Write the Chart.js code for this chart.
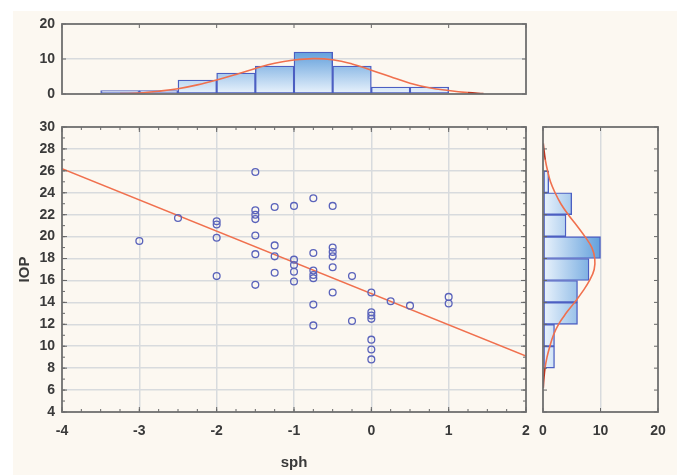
<!DOCTYPE html>
<html><head><meta charset="utf-8">
<script src="https://cdn.jsdelivr.net/npm/chart.js@4.4.1/dist/chart.umd.min.js"></script>
<style>
html,body{margin:0;padding:0;background:#fff;}
#wrap{position:relative;width:677px;height:475px;overflow:hidden;}
#bg{position:absolute;left:13px;top:11px;width:664px;height:464px;background:#fcf8f1;}
canvas{position:absolute;left:0;top:0;}
</style></head><body>
<div id="wrap"><div id="bg"></div>
<canvas id="top" width="677" height="475"></canvas>
<canvas id="main" width="677" height="475"></canvas>
<canvas id="side" width="677" height="475"></canvas>
</div>
<script>
// ---- data ----
const sphValues = [-3, -2.5, -2, -2, -2, -2,
  -1.5, -1.5, -1.5, -1.5, -1.5, -1.5, -1.5,
  -1.25, -1.25, -1.25, -1.25,
  -1, -1, -1, -1, -1,
  -0.75, -0.75, -0.75, -0.75, -0.75, -0.75, -0.75,
  -0.5, -0.5, -0.5, -0.5, -0.5, -0.5,
  -0.25, -0.25,
  0, 0, 0, 0, 0, 0, 0,
  0.25, 0.5, 1, 1];
const iopValues = [19.6, 21.7, 21.4, 21.1, 19.9, 16.4,
  25.9, 22.4, 22.0, 21.6, 20.1, 18.4, 15.6,
  22.7, 19.2, 18.2, 16.7,
  22.8, 17.9, 17.4, 16.8, 15.9,
  23.5, 18.5, 16.9, 16.5, 16.2, 13.8, 11.9,
  22.8, 19.0, 18.6, 18.2, 17.2, 14.9,
  16.4, 12.3,
  14.9, 13.1, 12.8, 12.5, 10.6, 9.7, 8.8,
  14.1, 13.7, 14.5, 13.9];

const fitLineSph = [-4, 2];
const fitLineIop = [26.2, 9.1];

const sphBinCenters = [-3.25, -2.75, -2.25, -1.75, -1.25, -0.75, -0.25, 0.25, 0.75];
const sphCounts     = [1, 1, 4, 6, 8, 12, 8, 2, 2];
const sphCurveX = [-3.25, -3, -2.75, -2.5, -2.25, -2, -1.75, -1.5, -1.25, -1, -0.75, -0.5, -0.25, 0, 0.25, 0.5, 0.75, 1, 1.25, 1.45];
const sphCurveY = [0.1, 0.3, 0.8, 1.5, 2.6, 4.0, 5.6, 7.3, 8.8, 9.7, 10.1, 9.8, 8.6, 6.8, 4.9, 3.1, 1.8, 1.0, 0.4, 0.1];

const iopBinCenters = [25, 23, 21, 19, 17, 15, 13, 11, 9];
const iopCounts     = [1, 5, 4, 10, 8, 6, 6, 2, 2];
const iopCurveIop   = [28.5, 28, 27, 26, 25, 24, 23, 22, 21, 20, 19, 18, 17, 16, 15, 14, 13, 12, 11, 10, 9, 8, 7, 6.2];
const iopCurveCount = [0.05, 0.15, 0.4, 0.8, 1.3, 2.1, 3.1, 4.4, 5.9, 7.3, 8.5, 9.0, 8.9, 8.1, 6.9, 5.5, 4.0, 2.7, 1.8, 1.2, 0.7, 0.35, 0.15, 0.05];

const sphTicks = [-4, -3, -2, -1, 0, 1, 2];
const iopTicks = [4, 6, 8, 10, 12, 14, 16, 18, 20, 22, 24, 26, 28, 30];
const countTicks = [0, 10, 20];

// ---- styles ----
const TICK_FONT = {family: 'Liberation Sans, Arial, sans-serif', size: 14, weight: 'bold'};
const TITLE_FONT = {family: 'Liberation Sans, Arial, sans-serif', size: 15, weight: 'bold'};
const TXT = '#3a3a3a';
const GRID = '#d8dbde';
const RED = '#f0704e';
const BAR_EDGE = '#4c5fc2';

const framePlugin = {
  id: 'frame',
  afterDatasetsDraw(chart, args, opts) {
    const {ctx, chartArea: a} = chart;
    ctx.save();
    ctx.strokeStyle = '#666';
    ctx.lineWidth = 1;
    (opts.marks || []).forEach(m => {
      const s = chart.scales[m.axis];
      const n = Math.round((s.max - s.min) / m.step);
      for (let i = 0; i <= n; i++) {
        const p = s.getPixelForValue(s.min + i * m.step);
        m.sides.forEach(side => {
          ctx.beginPath();
          if (side === 'top') { ctx.moveTo(p, a.top); ctx.lineTo(p, a.top + m.len); }
          if (side === 'bottom') { ctx.moveTo(p, a.bottom); ctx.lineTo(p, a.bottom - m.len); }
          if (side === 'left') { ctx.moveTo(a.left, p); ctx.lineTo(a.left + m.len, p); }
          if (side === 'right') { ctx.moveTo(a.right, p); ctx.lineTo(a.right - m.len, p); }
          ctx.stroke();
        });
      }
    });
    ctx.strokeStyle = '#6f6f6f';
    ctx.lineWidth = 1.8;
    ctx.strokeRect(a.left, a.top, a.right - a.left, a.bottom - a.top);
    ctx.restore();
  }
};

function gridColor(c) {
  const s = c.scale;
  return (c.tick && (c.tick.value === s.min || c.tick.value === s.max)) ? 'rgba(0,0,0,0)' : GRID;
}
function fixedTicks(arr) {
  return s => { s.ticks = arr.map(v => ({value: v})); };
}
const darkEnds = {
  borderColor: c => (Math.min(c.p0.parsed.y, c.p1.parsed.y, c.p0.parsed.x, c.p1.parsed.x) >= 0 &&
    ((c.chart.canvas.id === 'top' && c.p0.parsed.y < 0.45 && c.p1.parsed.y < 0.45) ||
     (c.chart.canvas.id === 'side' && c.p0.parsed.x < 0.45 && c.p1.parsed.x < 0.45))) ? '#b8321e' : undefined
};

// ---- main scatter ----
new Chart(document.getElementById('main'), {
  type: 'scatter',
  data: {
    datasets: [
      {
        type: 'line',
        data: fitLineSph.map((x, i) => ({x, y: fitLineIop[i]})),
        borderColor: RED, borderWidth: 1.6, pointRadius: 0, fill: false, order: 1
      },
      {
        data: sphValues.map((x, i) => ({x, y: iopValues[i]})),
        pointStyle: 'circle', pointRadius: 3.4, borderWidth: 1.3,
        borderColor: '#5a63bb', backgroundColor: 'rgba(0,0,0,0)', order: 0
      }
    ]
  },
  options: {
    responsive: false, animation: false, events: [],
    layout: {padding: {top: 127, right: 151, left: 0, bottom: 0}},
    plugins: {
      legend: {display: false}, tooltip: {enabled: false},
      frame: {marks: [
        {axis: 'x', step: 0.25, len: 3, sides: ['top', 'bottom']},
        {axis: 'x', step: 1, len: 5, sides: ['top', 'bottom']},
        {axis: 'y', step: 1, len: 3, sides: ['left', 'right']},
        {axis: 'y', step: 2, len: 5, sides: ['left', 'right']}
      ]}
    },
    scales: {
      x: {
        type: 'linear', min: -4, max: 2,
        afterBuildTicks: fixedTicks(sphTicks),
        afterFit: s => { s.height = 63; },
        grid: {color: gridColor, lineWidth: 1.5, drawTicks: false},
        border: {display: false},
        ticks: {font: TICK_FONT, color: TXT, padding: 11, maxRotation: 0},
        title: {display: true, text: 'sph', font: TITLE_FONT, color: TXT, padding: {top: 0, bottom: 3}}
      },
      y: {
        type: 'linear', min: 4, max: 30,
        afterBuildTicks: fixedTicks(iopTicks),
        afterFit: s => { s.width = 62; },
        grid: {color: gridColor, lineWidth: 1.5, drawTicks: false},
        border: {display: false},
        ticks: {font: TICK_FONT, color: TXT, padding: 7},
        title: {display: true, text: 'IOP', font: TITLE_FONT, color: TXT, padding: {top: 16, bottom: 0}}
      }
    }
  },
  plugins: [framePlugin]
});

// ---- top histogram ----
new Chart(document.getElementById('top'), {
  type: 'bar',
  data: {
    datasets: [
      {
        type: 'line',
        data: sphCurveX.map((x, i) => ({x, y: sphCurveY[i]})),
        borderColor: RED, borderWidth: 1.6, pointRadius: 0, tension: 0.4, fill: false,
        segment: darkEnds, order: 0
      },
      {
        data: sphBinCenters.map((x, i) => ({x, y: sphCounts[i]})),
        barPercentage: 1, categoryPercentage: 1,
        borderColor: BAR_EDGE, borderWidth: 1.4, borderSkipped: false,
        backgroundColor: c => {
          const ch = c.chart; if (!ch.chartArea) return '#a8c8ec';
          const y = ch.scales.y;
          const g = ch.ctx.createLinearGradient(0, y.getPixelForValue(0), 0, y.getPixelForValue(12));
          g.addColorStop(0, '#eaf3fc'); g.addColorStop(1, '#63a0dc');
          return g;
        },
        order: 1
      }
    ]
  },
  options: {
    responsive: false, animation: false, events: [],
    layout: {padding: {top: 24, right: 151, left: 0, bottom: 381}},
    plugins: {
      legend: {display: false}, tooltip: {enabled: false},
      frame: {marks: [
        {axis: 'x', step: 1, len: 4, sides: ['top']},
        {axis: 'y', step: 10, len: 4, sides: ['left', 'right']}
      ]}
    },
    scales: {
      x: {type: 'linear', min: -4, max: 2, display: false, offset: false,
          afterBuildTicks: fixedTicks(sphTicks)},
      y: {
        type: 'linear', min: 0, max: 20,
        afterBuildTicks: fixedTicks(countTicks),
        afterFit: s => { s.width = 62; },
        grid: {color: gridColor, lineWidth: 1.5, drawTicks: false},
        border: {display: false},
        ticks: {font: TICK_FONT, color: TXT, padding: 7}
      }
    }
  },
  plugins: [framePlugin]
});

// ---- side histogram ----
new Chart(document.getElementById('side'), {
  type: 'bar',
  data: {
    datasets: [
      {
        type: 'line', indexAxis: 'y',
        data: iopCurveIop.map((y, i) => ({x: iopCurveCount[i], y})),
        borderColor: RED, borderWidth: 1.6, pointRadius: 0, tension: 0.4, fill: false,
        segment: darkEnds, order: 0
      },
      {
        data: iopBinCenters.map((y, i) => ({x: iopCounts[i], y})),
        barPercentage: 1, categoryPercentage: 1,
        borderColor: BAR_EDGE, borderWidth: 1.4, borderSkipped: false,
        backgroundColor: c => {
          const ch = c.chart; if (!ch.chartArea) return '#a8c8ec';
          const x = ch.scales.x;
          const g = ch.ctx.createLinearGradient(x.getPixelForValue(0), 0, x.getPixelForValue(10), 0);
          g.addColorStop(0, '#eaf3fc'); g.addColorStop(1, '#63a0dc');
          return g;
        },
        order: 1
      }
    ]
  },
  options: {
    indexAxis: 'y',
    responsive: false, animation: false, events: [],
    layout: {padding: {top: 127, right: 19, left: 543, bottom: 0}},
    plugins: {
      legend: {display: false}, tooltip: {enabled: false},
      frame: {marks: [
        {axis: 'y', step: 2, len: 4, sides: ['left', 'right']},
        {axis: 'x', step: 10, len: 4, sides: ['top', 'bottom']}
      ]}
    },
    scales: {
      y: {type: 'linear', min: 4, max: 30, display: false, offset: false,
          afterBuildTicks: fixedTicks(iopTicks)},
      x: {
        type: 'linear', min: 0, max: 20,
        afterBuildTicks: fixedTicks(countTicks),
        afterFit: s => { s.height = 63; },
        grid: {color: gridColor, lineWidth: 1.5, drawTicks: false},
        border: {display: false},
        ticks: {font: TICK_FONT, color: TXT, padding: 11, maxRotation: 0}
      }
    }
  },
  plugins: [framePlugin]
});
</script>
</body></html>
